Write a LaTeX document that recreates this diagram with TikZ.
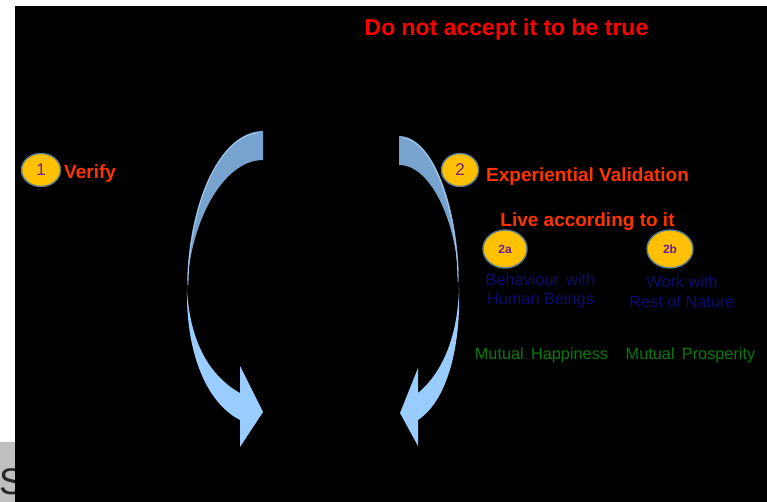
\documentclass[tikz,border=0pt]{standalone}
\usepackage{fontspec}
\setmainfont{Liberation Sans}
\usetikzlibrary{shapes.geometric}
\definecolor{bgblack}{HTML}{000000}
\definecolor{greybox}{HTML}{C0C0C0}
\definecolor{arrowdark}{HTML}{77A3CE}
\definecolor{arrowlight}{HTML}{99CCFF}
\definecolor{arrowrim}{HTML}{A9CFF2}
\definecolor{badgefill}{HTML}{FFC000}
\definecolor{badgeline}{HTML}{5E7F8E}
\definecolor{badgetext}{HTML}{6A1F8A}
\definecolor{orangered}{HTML}{FF3300}
\definecolor{navytext}{HTML}{0C0C70}
\definecolor{greentext}{HTML}{0A7A0A}
\tikzset{
  badge/.style={ellipse, draw=badgeline, line width=1.4pt, fill=badgefill,
    text=badgetext, inner sep=0pt},
  headtext/.style={text=orangered, font=\fontsize{19}{22}\selectfont\bfseries, inner sep=0pt},
  bluetext/.style={text=navytext, font=\fontsize{16.3}{20}\selectfont, align=center, inner sep=0pt},
  greenlabel/.style={text=greentext, font=\fontsize{16.3}{20}\selectfont, inner sep=0pt},
}
\begin{document}
\begin{tikzpicture}[x=1pt,y=-1pt]
\useasboundingbox (0,0) rectangle (767,502);
% margins and partial slide
\fill[white] (0,0) rectangle (767,502);
\fill[greybox] (0,442) rectangle (15,502);
\node[anchor=base west, inner sep=0pt, text=black!85, font=\fontsize{37}{40}\selectfont] (sletter) at (-1,494) {S};
\fill[bgblack] (15,6) rectangle (767,502);

% left curved arrow
\fill[arrowdark] (263,131) .. controls (221,131) and (187,202) .. (187,290)
  .. controls (189,225) and (222,160) .. (263,160) -- cycle;
\draw[arrowrim, line width=0.8pt] (258,133) .. controls (219,136) and (189,205) .. (188,285);
\fill[arrowlight] (187,290) .. controls (190,340) and (208,375) .. (240,393)
  -- (240,366) -- (263,412) -- (240,447) -- (240,420)
  .. controls (205,402) and (186,350) .. (187,290) -- cycle;

% right curved arrow
\fill[arrowdark] (399,136) .. controls (432,136) and (459,204) .. (459,287)
  .. controls (458,225) and (432,165) .. (399,165) -- cycle;
\draw[arrowrim, line width=0.8pt] (403,138) .. controls (433,141) and (457,208) .. (458,282);
\fill[arrowlight] (459,287) .. controls (458,337) and (442,373) .. (418,393)
  -- (418,368) -- (400,413) -- (418,446) -- (418,420)
  .. controls (448,400) and (461,345) .. (459,287) -- cycle;

% title
\node[text=red, font=\fontsize{23}{27}\selectfont\bfseries, inner sep=0pt] (title) at (506.5,30) {Do not accept it to be true};

% step 1
\node[badge, minimum width=39pt, minimum height=33pt, font=\fontsize{17}{20}\selectfont] (b1) at (41,170) {1};
\node[headtext, anchor=west] (verify) at (64,174) {Verify};

% step 2
\node[badge, minimum width=37pt, minimum height=33pt, font=\fontsize{17}{20}\selectfont] (b2) at (460,170) {2};
\node[headtext, anchor=west] (expval) at (486,177) {Experiential Validation};
\node[headtext] (live) at (587.5,222) {Live according to it};

% 2a / 2b
\node[badge, minimum width=44pt, minimum height=38pt, font=\fontsize{12}{14}\selectfont\bfseries] (b2a) at (505,249) {2a};
\node[badge, minimum width=46pt, minimum height=38pt, font=\fontsize{12}{14}\selectfont\bfseries] (b2b) at (670,249) {2b};

\node[bluetext] (beh1) at (540.5,280) {Behaviour\ \,with};
\node[bluetext] (beh2) at (540.5,300) {Human\ Beings};
\node[bluetext] (work1) at (682,282) {Work with};
\node[bluetext] (work2) at (682,302) {Rest of Nature};

\node[greenlabel] (mhap) at (541.5,355) {Mutual\ \,Happiness};
\node[greenlabel] (mpro) at (690.5,355) {Mutual\ \,Prosperity};
\end{tikzpicture}
\end{document}
